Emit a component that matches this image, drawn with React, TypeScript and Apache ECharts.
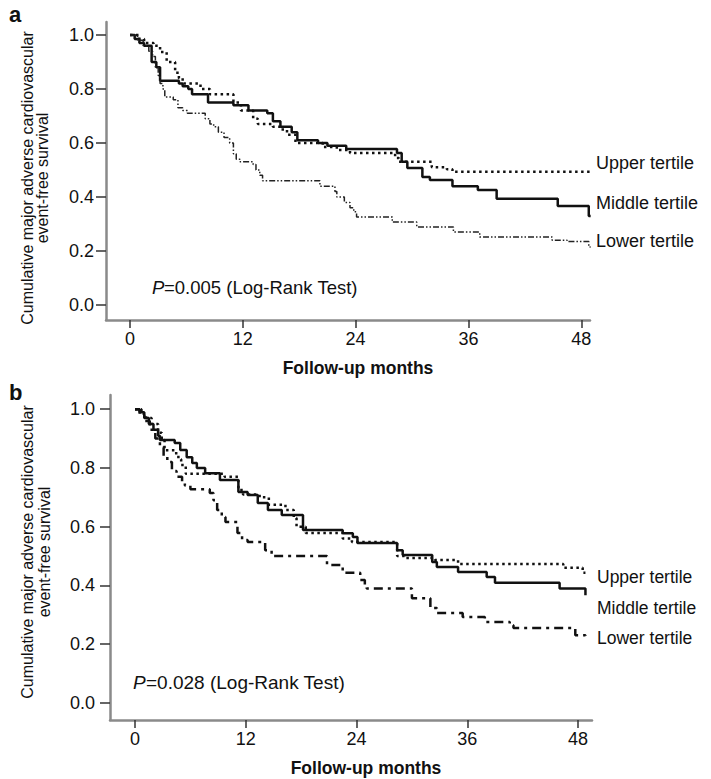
import React, { useEffect, useRef } from "react";
import * as echarts from "echarts";

const xTicks = [0, 12, 24, 36, 48];
const yTicks = [0, 0.2, 0.4, 0.6, 0.8, 1.0];
const groupNames = ["Upper tertile", "Middle tertile", "Lower tertile"];
const xTitle = "Follow-up months";
const yTitle = ["Cumulative major adverse cardiovascular", "event-free survival"];
const pTextA = "=0.005 (Log-Rank Test)";
const pTextB = "=0.028 (Log-Rank Test)";

// Panel a: [month, survival]
const aUpper = [
  [0, 1.0], [1, 0.985], [1.5, 0.97], [2.5, 0.96], [3.2, 0.937], [3.9, 0.9], [4.8, 0.86], [5.2, 0.84],
  [5.6, 0.82], [7.5, 0.8], [8.5, 0.78], [11, 0.75], [11.8, 0.72], [13.1, 0.69], [13.6, 0.67], [15.2, 0.66],
  [16, 0.65], [16.7, 0.63], [17.6, 0.6], [20.5, 0.585], [22, 0.574], [23.4, 0.563], [28.2, 0.544],
  [28.6, 0.53], [32.1, 0.51], [33.7, 0.503], [34.3, 0.493], [49, 0.493],
];
const aMiddle = [
  [0, 1.0], [0.5, 0.985], [1, 0.97], [1.5, 0.96], [2.3, 0.9], [2.8, 0.88], [3.2, 0.83], [5.2, 0.82],
  [5.6, 0.81], [6.2, 0.8], [6.6, 0.78], [8.3, 0.75], [11, 0.74], [12.6, 0.72], [14.6, 0.71], [15.2, 0.68],
  [16, 0.66], [17.2, 0.64], [17.8, 0.61], [20, 0.6], [21, 0.59], [23, 0.578], [28.4, 0.563], [28.9, 0.53],
  [29.5, 0.507], [31.1, 0.474], [31.9, 0.463], [34.3, 0.44], [37, 0.426], [39, 0.393], [45.5, 0.367],
  [48.8, 0.33], [49, 0.33],
];
const aLower = [
  [0, 1.0], [0.8, 0.98], [1.4, 0.96], [2, 0.94], [2.4, 0.92], [2.7, 0.88], [3, 0.85], [3.2, 0.82],
  [3.5, 0.8], [3.7, 0.77], [4.6, 0.76], [5.1, 0.73], [5.6, 0.72], [6.1, 0.71], [8, 0.69], [8.5, 0.67],
  [8.9, 0.66], [9.4, 0.64], [10, 0.62], [10.6, 0.6], [11, 0.56], [11.3, 0.54], [11.7, 0.53], [13.1, 0.52],
  [13.4, 0.5], [13.8, 0.48], [14.1, 0.46], [20.2, 0.44], [21.8, 0.42], [22, 0.4], [22.8, 0.38],
  [23.4, 0.36], [23.8, 0.345], [24.1, 0.326], [27.9, 0.307], [30.5, 0.289], [34.4, 0.27], [37.2, 0.252],
  [44.9, 0.24], [46.5, 0.235], [48.8, 0.215], [49, 0.215],
];

// Panel b: [month, survival]
const bUpper = [
  [0, 1.0], [0.7, 0.985], [1.2, 0.97], [1.8, 0.95], [2.5, 0.92], [2.9, 0.895], [3.2, 0.86], [4.3, 0.85],
  [4.7, 0.83], [5, 0.81], [5.5, 0.78], [9.7, 0.77], [11.2, 0.725], [11.7, 0.71], [13.5, 0.7], [14.5, 0.675],
  [16.3, 0.657], [17.2, 0.63], [17.5, 0.6], [18.5, 0.579], [22.5, 0.56], [23.5, 0.548], [28.4, 0.5],
  [29.2, 0.494], [32.5, 0.487], [35, 0.473], [46.4, 0.46], [48.5, 0.443], [48.8, 0.443],
];
const bMiddle = [
  [0, 1.0], [0.5, 0.99], [1, 0.97], [1.5, 0.95], [2, 0.93], [2.5, 0.91], [2.7, 0.895], [4.3, 0.885],
  [4.9, 0.861], [5.6, 0.837], [6.2, 0.817], [6.7, 0.8], [7.6, 0.782], [9.2, 0.759], [11.2, 0.718],
  [12.2, 0.708], [13.3, 0.681], [14.4, 0.657], [15.9, 0.64], [18.2, 0.589], [22.5, 0.578], [23.6, 0.565],
  [24.1, 0.545], [28.4, 0.52], [29, 0.504], [32.2, 0.48], [32.7, 0.463], [35, 0.446], [38.1, 0.429],
  [39, 0.409], [46, 0.39], [48.8, 0.367],
];
const bLower = [
  [0, 1.0], [0.5, 0.98], [1, 0.96], [1.6, 0.93], [2.2, 0.9], [2.7, 0.87], [3.1, 0.84], [3.5, 0.82],
  [4, 0.79], [4.5, 0.77], [5.1, 0.75], [5.4, 0.74], [6, 0.728], [8.1, 0.715], [8.5, 0.69], [8.9, 0.657],
  [9.4, 0.633], [9.8, 0.616], [11.1, 0.579], [11.6, 0.555], [12.2, 0.548], [14.1, 0.52], [14.8, 0.504],
  [15, 0.5], [20.8, 0.47], [22.5, 0.443], [24.4, 0.419], [24.9, 0.4], [25.1, 0.39], [30, 0.357],
  [32, 0.323], [32.7, 0.306], [35.5, 0.293], [37.9, 0.276], [40.6, 0.265], [41, 0.255], [47.7, 0.231],
  [48.8, 0.214],
];

const FONT = "'Liberation Sans', Arial, Helvetica, sans-serif";

function makeX(gridIndex: number, min: number, max: number) {
  return {
    type: "value",
    gridIndex,
    min,
    max,
    axisLine: { show: true, onZero: false, lineStyle: { color: "#8a8a8a", width: 2.5 } },
    axisTick: { show: true, customValues: xTicks, length: 8, lineStyle: { color: "#333", width: 1.5 } },
    axisLabel: { customValues: xTicks, color: "#111", fontSize: 18, fontFamily: FONT, margin: 10 },
    splitLine: { show: false },
  };
}
function makeY(gridIndex: number, min: number, max: number, margin: number) {
  return {
    type: "value",
    gridIndex,
    min,
    max,
    axisLine: { show: true, onZero: false, lineStyle: { color: "#8a8a8a", width: 2.5 } },
    axisTick: { show: true, customValues: yTicks, length: 10, lineStyle: { color: "#333", width: 1.5 } },
    axisLabel: {
      customValues: yTicks,
      color: "#111",
      fontSize: 18,
      fontFamily: FONT,
      margin,
      formatter: (v: number) => v.toFixed(1),
    },
    splitLine: { show: false },
  };
}

function line(name: string, data: number[][], idx: number, style: any) {
  return {
    type: "line",
    name,
    data,
    xAxisIndex: idx,
    yAxisIndex: idx,
    step: "end",
    symbol: "none",
    lineStyle: style,
    silent: true,
  };
}

function txt(text: string, x: number, y: number, size: number, extra: any = {}) {
  return {
    type: "text",
    x,
    y,
    style: {
      text,
      fill: "#111",
      fontSize: size,
      fontFamily: FONT,
      textVerticalAlign: "middle",
      ...(extra.style || {}),
    },
    ...(extra.el || {}),
  };
}

export default function App() {
  const ref = useRef<HTMLDivElement>(null);
  useEffect(() => {
    if (!ref.current) return;
    const chart = echarts.init(ref.current, undefined, { renderer: "svg" });
    const dotted = { color: "#111", width: 2.5, type: [2.5, 3.5], cap: "butt" };
    const solid = { color: "#111", width: 2.5, type: "solid" };
    const dashDotDot = { color: "#222", width: 1.5, type: [6, 2, 1.5, 2, 1.5, 2] };
    const dashDot = { color: "#111", width: 2.5, type: [9, 5, 3, 5] };
    chart.setOption({
      animation: false,
      backgroundColor: "#fff",
      grid: [
        { left: 106, top: 22, width: 484, height: 298 },
        { left: 110, top: 395, width: 482, height: 325 },
      ],
      xAxis: [makeX(0, -2.553, 48.93), makeX(1, -2.709, 49.51)],
      yAxis: [makeY(0, -0.0556, 1.048, 12), makeY(1, -0.0579, 1.0485, 15)],
      series: [
        line(groupNames[0], aUpper, 0, dotted),
        line(groupNames[1], aMiddle, 0, solid),
        line(groupNames[2], aLower, 0, dashDotDot),
        line(groupNames[0], bUpper, 1, dotted),
        line(groupNames[1], bMiddle, 1, solid),
        line(groupNames[2], bLower, 1, dashDot),
      ],
      graphic: [
        txt("a", 9, 14, 22, { style: { fontWeight: "bold" } }),
        txt("b", 9, 392, 22, { style: { fontWeight: "bold" } }),
        txt(yTitle[0], 27, 178, 16, { style: { textAlign: "center" }, el: { rotation: Math.PI / 2 } }),
        txt(yTitle[1], 42, 178, 16, { style: { textAlign: "center" }, el: { rotation: Math.PI / 2 } }),
        txt(yTitle[0], 27, 552, 16, { style: { textAlign: "center" }, el: { rotation: Math.PI / 2 } }),
        txt(yTitle[1], 44, 552, 16, { style: { textAlign: "center" }, el: { rotation: Math.PI / 2 } }),
        txt(xTitle, 358, 368, 17.5, { style: { textAlign: "center", fontWeight: "bold" } }),
        txt(xTitle, 366, 768, 17.5, { style: { textAlign: "center", fontWeight: "bold" } }),
        txt("P", 152, 287, 18.5, { style: { fontStyle: "italic" } }),
        txt(pTextA, 164, 287, 18.5),
        txt("P", 133, 682, 19, { style: { fontStyle: "italic" } }),
        txt(pTextB, 146, 682, 19),
        txt(groupNames[0], 596, 163, 18),
        txt(groupNames[1], 596, 203, 18),
        txt(groupNames[2], 596, 241, 18),
        txt(groupNames[0], 597, 577, 17.5),
        txt(groupNames[1], 597, 608, 17.5),
        txt(groupNames[2], 597, 638, 17.5),
      ],
    });
    return () => chart.dispose();
  }, []);
  return (
    <div
      ref={ref}
      style={{ position: "absolute", left: 0, top: 0, width: 711, height: 779, background: "#fff" }}
    />
  );
}
